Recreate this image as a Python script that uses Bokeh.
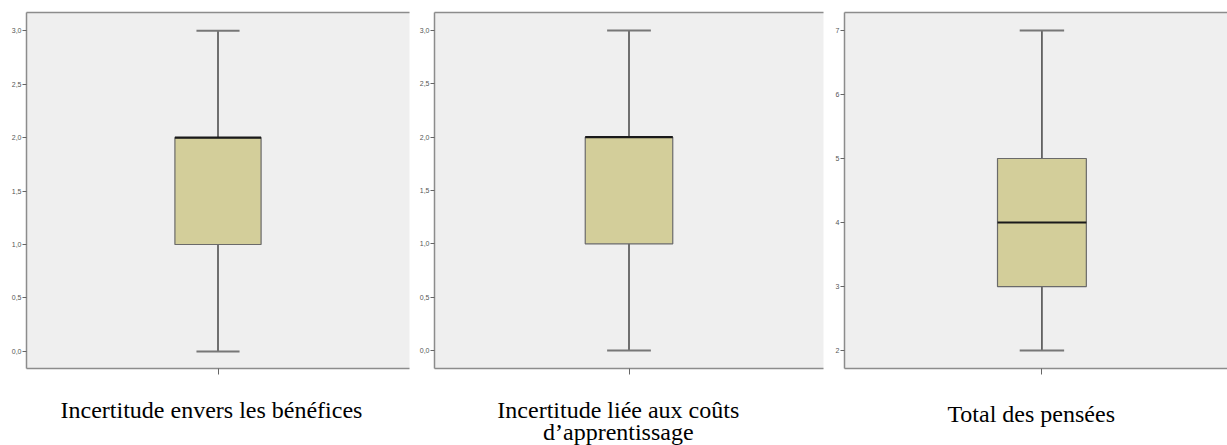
from bokeh.plotting import figure
from bokeh.layouts import row, column
from bokeh.models import Range1d, FixedTicker, LinearAxis, Label
from bokeh.embed import file_html
from bokeh.resources import INLINE

# ---- data ----
titles = [
    ["Incertitude envers les bénéfices"],
    ["Incertitude liée aux coûts", "d’apprentissage"],
    ["Total des pensées"],
]
mins = [0, 0, 2]
q1s = [1, 1, 3]
medians = [2, 2, 4]
q3s = [2, 2, 5]
maxs = [3, 3, 7]
tick_sets = [
    [0.0, 0.5, 1.0, 1.5, 2.0, 2.5, 3.0],
    [0.0, 0.5, 1.0, 1.5, 2.0, 2.5, 3.0],
    [2, 3, 4, 5, 6, 7],
]
tick_labels = [
    ["0,0", "0,5", "1,0", "1,5", "2,0", "2,5", "3,0"],
    ["0,0", "0,5", "1,0", "1,5", "2,0", "2,5", "3,0"],
    ["2", "3", "4", "5", "6", "7"],
]

# ---- layout / style ----
widths = [412, 418, 397]
borders_left = [26, 22, 14]
borders_right = [3, 7, 0]
x_ranges = [(0, 2), (0, 2), (0, 1.94)]
y_ranges = [(-0.16, 3.17), (-0.17, 3.17), (1.72, 7.28)]
PLOT_H = 380
TITLE_H = 65
title_x = [199, 197.5, 193.5]
title_y = [[36], [36, 14], [32]]

BOX_W = 0.45
CAP_W = 0.225
BG = "#EFEFEF"
FILL = "#D3CE9A"
AXIS_C = "#8C8C8C"

cols = []
for i in range(3):
    p = figure(width=widths[i], height=PLOT_H, output_backend="svg",
               toolbar_location=None,
               x_range=Range1d(*x_ranges[i]), y_range=Range1d(*y_ranges[i]),
               min_border_left=borders_left[i], min_border_right=borders_right[i],
               min_border_top=12, min_border_bottom=12)
    p.background_fill_color = BG
    p.border_fill_color = "white"
    p.outline_line_color = None
    p.xgrid.visible = False
    p.ygrid.visible = False

    # y axis
    ya = p.yaxis[0]
    ya.ticker = FixedTicker(ticks=tick_sets[i])
    ya.major_label_overrides = {t: l for t, l in zip(tick_sets[i], tick_labels[i])}
    ya.major_label_text_font = "Liberation Sans"
    ya.major_label_text_font_size = "7px"
    ya.major_label_text_color = "#555555"
    ya.major_label_standoff = 1
    ya.major_tick_out = 4
    ya.major_tick_in = 0
    ya.major_tick_line_color = "#666666"
    ya.minor_tick_line_color = None
    ya.axis_line_color = AXIS_C
    ya.axis_line_width = 1.5

    # x axis (single unlabeled tick)
    xa = p.xaxis[0]
    xa.ticker = FixedTicker(ticks=[1])
    xa.major_label_overrides = {1: ""}
    xa.major_label_text_font_size = "7px"
    xa.major_label_standoff = 0
    xa.major_tick_out = 6
    xa.major_tick_in = 0
    xa.major_tick_line_color = "#666666"
    xa.minor_tick_line_color = None
    xa.axis_line_color = AXIS_C
    xa.axis_line_width = 1.5

    # top border line
    top = LinearAxis(ticker=FixedTicker(ticks=[]),
                     major_tick_out=0, major_tick_in=0, minor_tick_out=0,
                     major_label_standoff=0,
                     axis_line_color=AXIS_C, axis_line_width=1.5)
    p.add_layout(top, "above")

    x = 1
    # whiskers
    p.segment(x0=[x, x], y0=[q3s[i], q1s[i]], x1=[x, x], y1=[maxs[i], mins[i]],
              line_color="#444444", line_width=1.5)
    # box
    p.quad(left=[x - BOX_W / 2], right=[x + BOX_W / 2], bottom=[q1s[i]], top=[q3s[i]],
           fill_color=FILL, line_color="#6A6A6A", line_width=1.2)
    # median
    p.segment(x0=[x - BOX_W / 2], y0=[medians[i]], x1=[x + BOX_W / 2], y1=[medians[i]],
              line_color="#1A1A1A", line_width=2.2)
    # caps
    p.segment(x0=[x - CAP_W / 2, x - CAP_W / 2], y0=[maxs[i], mins[i]],
              x1=[x + CAP_W / 2, x + CAP_W / 2], y1=[maxs[i], mins[i]],
              line_color="#777777", line_width=2)

    # title panel below
    t = figure(width=widths[i], height=TITLE_H, output_backend="svg",
               toolbar_location=None, x_axis_type=None, y_axis_type=None,
               x_range=Range1d(0, widths[i]), y_range=Range1d(0, TITLE_H),
               min_border=0)
    t.grid.visible = False
    t.outline_line_color = None
    t.background_fill_color = "white"
    t.border_fill_color = "white"
    for line, ty in zip(titles[i], title_y[i]):
        t.add_layout(Label(x=title_x[i], y=ty, text=line,
                           text_font="Liberation Serif", text_font_size="24px",
                           text_color="black", text_align="center",
                           text_baseline="alphabetic"))
    cols.append(column(p, t, spacing=0))

layout = row(*cols, spacing=0)
open("out.html", "w").write(file_html(layout, INLINE))
